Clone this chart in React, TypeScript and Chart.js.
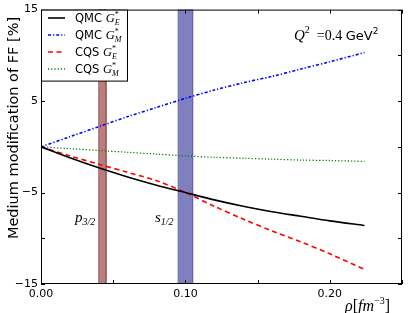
import React, { useEffect, useRef } from "react";
import { Chart, registerables } from "chart.js";

Chart.register(...registerables);

const rho = [0, 0.02, 0.04, 0.06, 0.08, 0.1, 0.12, 0.14, 0.16, 0.18, 0.2, 0.224];
const qmcGE = [0, -1.2, -2.3, -3.3, -4.2, -5.0, -5.8, -6.5, -7.1, -7.6, -8.1, -8.6];
const qmcGM = [0, 1.1, 2.2, 3.3, 4.3, 5.3, 6.2, 7.0, 7.7, 8.5, 9.3, 10.3];
const cqsGE = [0, -1.0, -1.9, -2.8, -3.7, -5.0, -6.5, -7.9, -9.2, -10.4, -11.7, -13.4];
const cqsGM = [0, -0.2, -0.4, -0.6, -0.8, -1.0, -1.15, -1.25, -1.35, -1.45, -1.5, -1.6];

const p32Band = [0.04, 0.045];
const s12Band = [0.095, 0.105];

const xTicks = [0, 0.05, 0.1, 0.15, 0.2, 0.25];
const yTicks = [-15, -10, -5, 0, 5, 10, 15];
const xLabeled = ["0.00", "0.10", "0.20"];
const yLabeled = [15, 5, -5, -15];

const SANS = "'DejaVu Sans', sans-serif";
const SERIF = "'Liberation Serif', serif";

type Part = { t: string; font: string; dy?: number; stackWithNext?: boolean };

function drawRich(ctx: CanvasRenderingContext2D, x: number, y: number, parts: Part[]) {
  let cx = x;
  let i = 0;
  while (i < parts.length) {
    const p = parts[i];
    ctx.font = p.font;
    ctx.fillText(p.t, cx, y + (p.dy || 0));
    let w = ctx.measureText(p.t).width;
    if (p.stackWithNext && i + 1 < parts.length) {
      const q = parts[i + 1];
      ctx.font = q.font;
      ctx.fillText(q.t, cx, y + (q.dy || 0));
      w = Math.max(w, ctx.measureText(q.t).width);
      i++;
    }
    cx += w;
    i++;
  }
  return cx - x;
}

const series = [
  { label: "QMC", sub: "E", data: qmcGE, color: "#000000", dash: [] as number[], width: 1.6 },
  { label: "QMC", sub: "M", data: qmcGM, color: "#0000ff", dash: [3, 2, 1.2, 2], width: 1.6 },
  { label: "CQS", sub: "E", data: cqsGE, color: "#ff0000", dash: [5, 3.5], width: 1.6 },
  { label: "CQS", sub: "M", data: cqsGM, color: "#008000", dash: [1.2, 2], width: 1.3 },
];

const overlay = {
  id: "overlay",
  afterDraw(chart: any) {
    const ctx: CanvasRenderingContext2D = chart.ctx;
    const { left, right, top, bottom } = chart.chartArea;
    const xs = chart.scales.x;
    const ys = chart.scales.y;
    ctx.save();
    ctx.strokeStyle = "#000";
    ctx.lineWidth = 1;
    ctx.strokeRect(left + 0.5, top + 0.5, right - left - 1, bottom - top - 1);
    ctx.beginPath();
    xTicks.forEach((v) => {
      const px = Math.round(xs.getPixelForValue(v)) + 0.5;
      ctx.moveTo(px, bottom);
      ctx.lineTo(px, bottom - 4);
      ctx.moveTo(px, top);
      ctx.lineTo(px, top + 4);
    });
    yTicks.forEach((v) => {
      const py = Math.round(ys.getPixelForValue(v)) + 0.5;
      ctx.moveTo(left, py);
      ctx.lineTo(left + 4, py);
      ctx.moveTo(right, py);
      ctx.lineTo(right - 4, py);
    });
    ctx.stroke();

    ctx.fillStyle = "#000";
    ctx.textBaseline = "alphabetic";
    ctx.textAlign = "left";

    const lx = left + 0.5;
    const ly = top + 0.5;
    ctx.fillStyle = "#fff";
    ctx.fillRect(lx, ly, 86, 71);
    ctx.strokeStyle = "#000";
    ctx.strokeRect(lx, ly, 86, 71);
    const rows = [18, 35, 52, 69];
    series.forEach((s, i) => {
      const yy = rows[i];
      ctx.strokeStyle = s.color;
      ctx.lineWidth = s.width;
      ctx.setLineDash(s.dash);
      ctx.beginPath();
      ctx.moveTo(48, yy);
      ctx.lineTo(65, yy);
      ctx.stroke();
      ctx.setLineDash([]);
      ctx.fillStyle = "#000";
      drawRich(ctx, 75, yy + 4, [
        { t: s.label + " ", font: `11.5px ${SANS}` },
        { t: "G", font: `italic 12.5px ${SERIF}` },
        { t: "*", font: `8px ${SERIF}`, dy: -5, stackWithNext: true },
        { t: s.sub, font: `italic 8px ${SERIF}`, dy: 3 },
      ]);
    });

    ctx.fillStyle = "#000";
    drawRich(ctx, 294, 40, [
      { t: "Q", font: `italic 15px ${SERIF}` },
      { t: "2", font: `10px ${SERIF}`, dy: -7 },
      { t: "  =0.4 ", font: `14px ${SERIF}` },
      { t: "GeV", font: `13px ${SANS}` },
      { t: "2", font: `9px ${SANS}`, dy: -6 },
    ]);

    drawRich(ctx, 75, 222, [
      { t: "p", font: `italic 15px ${SERIF}` },
      { t: "3/2", font: `italic 10px ${SERIF}`, dy: 3 },
    ]);
    drawRich(ctx, 155, 222, [
      { t: "s", font: `italic 15px ${SERIF}` },
      { t: "1/2", font: `italic 10px ${SERIF}`, dy: 3 },
    ]);

    drawRich(ctx, 345, 311, [
      { t: "ρ", font: `italic 16px ${SERIF}` },
      { t: "[", font: `16px ${SERIF}` },
      { t: "fm", font: `italic 16px ${SERIF}` },
      { t: "−3", font: `10px ${SERIF}`, dy: -7 },
      { t: "]", font: `16px ${SERIF}` },
    ]);

    ctx.save();
    ctx.translate(18, 128);
    ctx.rotate(-Math.PI / 2);
    ctx.textAlign = "center";
    ctx.font = `14.5px ${SANS}`;
    ctx.fillText("Medium modification of FF [%]", 0, 0);
    ctx.restore();

    ctx.restore();
  },
};

function band(r: number[], fill: string, edge: string) {
  return {
    type: "line" as const,
    data: [
      { x: r[0], y: -15 },
      { x: r[0], y: 15 },
      { x: r[1], y: 15 },
      { x: r[1], y: -15 },
    ],
    borderColor: edge,
    borderWidth: 1,
    backgroundColor: fill,
    fill: { value: -15 },
    pointRadius: 0,
    tension: 0,
    order: 10,
  };
}

export default function App() {
  const ref = useRef<HTMLCanvasElement>(null);
  useEffect(() => {
    if (!ref.current) return;
    const datasets: any[] = series.map((s) => ({
      type: "line",
      data: rho.map((x, i) => ({ x, y: s.data[i] })),
      borderColor: s.color,
      borderWidth: s.width,
      borderDash: s.dash,
      pointRadius: 0,
      fill: false,
      tension: 0.3,
      order: 1,
    }));
    datasets.push(band(p32Band, "rgb(188,124,124)", "rgb(150,95,95)"));
    datasets.push(band(s12Band, "rgb(128,128,192)", "rgb(100,100,165)"));
    const chart = new Chart(ref.current, {
      type: "line",
      data: { datasets },
      options: {
        animation: false,
        responsive: false,
        events: [],
        layout: { padding: { top: 8, right: 13, left: 0, bottom: 0 } },
        plugins: { legend: { display: false }, tooltip: { enabled: false } },
        scales: {
          x: {
            type: "linear",
            min: 0,
            max: 0.25,
            afterFit: (s: any) => {
              s.height = 29;
            },
            afterBuildTicks: (s: any) => {
              s.ticks = [0, 0.1, 0.2].map((v) => ({ value: v }));
            },
            ticks: {
              padding: 4,
              color: "#000",
              font: { family: "DejaVu Sans", size: 11 },
              maxRotation: 0,
              callback: (_v: any, i: number) => xLabeled[i],
            },
            grid: { display: false, drawTicks: false },
            border: { display: false },
          },
          y: {
            type: "linear",
            min: -15,
            max: 15,
            afterFit: (s: any) => {
              s.width = 41;
            },
            afterBuildTicks: (s: any) => {
              s.ticks = yLabeled.map((v) => ({ value: v }));
            },
            ticks: {
              padding: 3,
              color: "#000",
              font: { family: "DejaVu Sans", size: 11 },
              callback: (v: any) => (v < 0 ? "−" + Math.abs(v) : String(v)),
            },
            grid: { display: false, drawTicks: false },
            border: { display: false },
          },
        },
      },
      plugins: [overlay],
    });
    return () => chart.destroy();
  }, []);
  return (
    <div style={{ position: "fixed", left: 0, top: 0, width: 415, height: 313, background: "#fff" }}>
      <canvas ref={ref} width={415} height={313} style={{ display: "block" }} />
    </div>
  );
}
